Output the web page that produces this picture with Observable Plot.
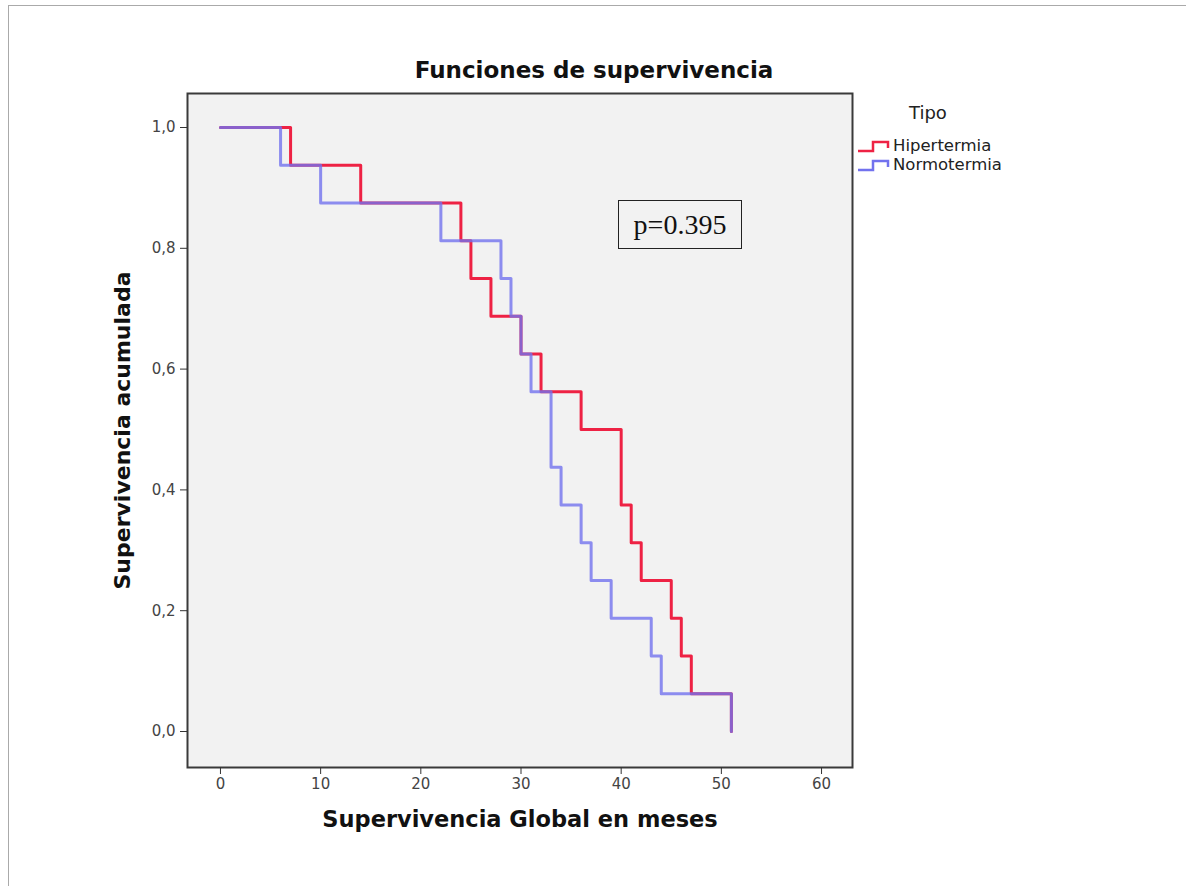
<!DOCTYPE html>
<html>
<head>
<meta charset="utf-8">
<script src="https://cdn.jsdelivr.net/npm/d3@7"></script>
<script src="https://cdn.jsdelivr.net/npm/@observablehq/plot@0.6"></script>
<style>
  html, body { margin: 0; padding: 0; background: #fff; }
  #wrap { position: relative; width: 1186px; height: 886px; overflow: hidden; font-family: "DejaVu Sans", sans-serif; }
  #wrap svg { position: absolute; left: 0; top: 0; }
  .border { position: absolute; left: 8px; top: 5px; width: 1300px; height: 1000px; border-top: 1px solid #aaa; border-left: 1px solid #aaa; }
  .title { position: absolute; left: 0; width: 1186px; top: 57px; font-size: 23px; font-weight: bold; color: #111; }
  .title span { position: absolute; left: 594px; transform: translateX(-50%); white-space: nowrap; }
  .legtitle { position: absolute; left: 909px; top: 102px; font-size: 18px; color: #222; }
  .legitem { position: absolute; left: 857px; font-size: 16.5px; color: #222; height: 20px; line-height: 20px; white-space: nowrap; }
  .legitem svg { position: static !important; vertical-align: middle; margin-right: 2px; }
  .pbox { position: absolute; left: 618px; top: 200px; width: 122px; height: 47px; border: 1.5px solid #222; box-sizing: content-box; font-family: "Liberation Serif", "Times New Roman", serif; font-size: 28px; color: #111; text-align: center; line-height: 47px; background: #f2f2f2; }
</style>
</head>
<body>
<div id="wrap">
  <div class="border"></div>
</div>
<script>
// Kaplan-Meier step data (months, cumulative survival)
const hiperTime = [0, 7, 14, 24, 25, 27, 30, 32, 36, 40, 41, 42, 45, 46, 47, 51];
const hiperSurv = [1.0, 0.9375, 0.875, 0.8125, 0.75, 0.6875, 0.625, 0.5625, 0.5, 0.375, 0.3125, 0.25, 0.1875, 0.125, 0.0625, 0.0];
const normoTime = [0, 6, 10, 22, 28, 29, 30, 31, 33, 34, 36, 37, 39, 43, 44, 51];
const normoSurv = [1.0, 0.9375, 0.875, 0.8125, 0.75, 0.6875, 0.625, 0.5625, 0.4375, 0.375, 0.3125, 0.25, 0.1875, 0.125, 0.0625, 0.0];
const groups = ["Hipertermia", "Normotermia"];
const groupColors = ["#ee2244", "#7272ee"];
const xTicks = [0, 10, 20, 30, 40, 50, 60];
const yTicks = [0, 0.2, 0.4, 0.6, 0.8, 1.0];
const pLabel = "p=0.395";

const hiper = hiperTime.map((t, i) => ({t, s: hiperSurv[i], g: groups[0]}));
const normo = normoTime.map((t, i) => ({t, s: normoSurv[i], g: groups[1]}));

const chart = Plot.plot({
  width: 1186,
  height: 886,
  marginLeft: 187,
  marginRight: 334,
  marginTop: 93,
  marginBottom: 119,
  style: {background: "transparent", fontFamily: "DejaVu Sans, sans-serif"},
  x: {domain: [-3.29, 63.09]},
  y: {domain: [-0.0596, 1.0563]},
  marks: [
    Plot.frame({fill: "#f2f2f2", stroke: null}),
    Plot.line(hiper, {x: "t", y: "s", curve: "step-after", stroke: groupColors[0], strokeWidth: 3}),
    Plot.line(normo, {x: "t", y: "s", curve: "step-after", stroke: groupColors[1], strokeWidth: 3, strokeOpacity: 0.8}),
    Plot.frame({stroke: "#3a3a3a", strokeWidth: 2}),
    Plot.axisX({ticks: xTicks, tickSize: 7, tickPadding: 4, fontSize: 15, label: null, stroke: "#333", color: "#444"}),
    Plot.axisY({ticks: yTicks, tickSize: 7, tickPadding: 5, fontSize: 15, label: null, stroke: "#333", color: "#444",
      tickFormat: d => d.toFixed(1).replace(".", ",")}),
    Plot.text(["Supervivencia Global en meses"], {frameAnchor: "bottom", dy: 59, fontSize: 22.5, fontWeight: "bold", fill: "#111"}),
    Plot.text(["Supervivencia acumulada"], {frameAnchor: "left", dx: -65, rotate: -90, textAnchor: "middle", fontSize: 22, fontWeight: "bold", fill: "#111"})
  ]
});
const wrap = document.getElementById("wrap");
wrap.appendChild(chart);

const title = document.createElement("div");
title.className = "title";
title.innerHTML = "<span>Funciones de supervivencia</span>";
wrap.appendChild(title);

const lt = document.createElement("div");
lt.className = "legtitle";
lt.textContent = "Tipo";
wrap.appendChild(lt);

groups.forEach((g, i) => {
  const d = document.createElement("div");
  d.className = "legitem";
  d.style.top = (136 + i * 19) + "px";
  d.innerHTML = `<svg width="34" height="14"><path d="M1,11 H16 V2 H31 V8" fill="none" stroke="${groupColors[i]}" stroke-width="2.5"/></svg>${g}`;
  wrap.appendChild(d);
});

const pb = document.createElement("div");
pb.className = "pbox";
pb.textContent = pLabel;
wrap.appendChild(pb);
</script>
</body>
</html>
